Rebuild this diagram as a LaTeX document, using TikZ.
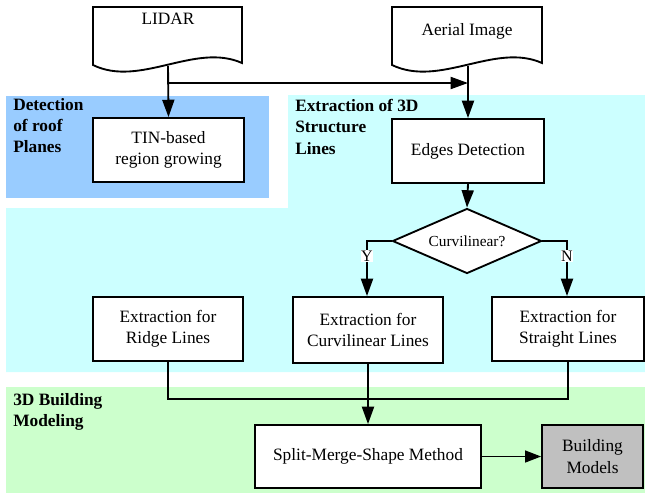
\documentclass[tikz,border=0pt]{standalone}
\usepackage{fontspec}
\setmainfont{Liberation Serif}
\usetikzlibrary{arrows.meta,shapes.geometric}
\definecolor{roofblue}{HTML}{99CCFF}
\definecolor{structcyan}{HTML}{CCFFFF}
\definecolor{modelgreen}{HTML}{CCFFCC}
\definecolor{modelgray}{HTML}{C0C0C0}
\begin{document}
\begin{tikzpicture}[x=0.75pt,y=-0.75pt,
  box/.style={draw,line width=1.4pt,fill=white,align=center,inner sep=0pt,
    font=\fontsize{13}{16}\selectfont},
  doc/.style={draw,line width=1.4pt,fill=white},
  conn/.style={line width=1.4pt},
  arr/.style={line width=1.4pt,-{Triangle[length=13pt,width=9pt]}},
  thinarr/.style={line width=1pt,-{Triangle[length=12pt,width=9pt]}},
  lbl/.style={font=\fontsize{13}{16}\selectfont\bfseries,align=left,anchor=north west,inner sep=0pt},
  yn/.style={fill=white,inner sep=0.5pt,font=\fontsize{12}{14}\selectfont}]
\useasboundingbox (0,0) rectangle (645,494);
% backgrounds
\fill[structcyan] (288,95) -- (645,95) -- (645,372) -- (6,372) -- (6,208) -- (288,208) -- cycle;
\fill[roofblue] (6,96) rectangle (269,198);
\fill[modelgreen] (6,387) rectangle (645,493);
% group labels
\node[lbl] (lroof) at (13,98) {Detection\\of roof\\Planes};
\node[lbl] (lstruct) at (295,99) {Extraction of 3D\\Structure\\Lines};
\node[lbl] (lmodel) at (13,393) {3D Building\\Modeling};
% document shapes
\draw[doc] (93,65) -- (93,7) -- (242,7) -- (242,63) .. controls (195,42) and (140,88) .. cycle;
\draw[doc] (392,65) -- (392,7) -- (542,7) -- (542,63) .. controls (495,42) and (440,88) .. cycle;
\node[font=\fontsize{13}{16}\selectfont] (lidar) at (168,19) {LIDAR};
\node[font=\fontsize{13}{16}\selectfont] (aerial) at (467,31) {Aerial Image};
\coordinate (lidarb) at (168,66);
\coordinate (aerialb) at (468,66);
\coordinate (branch) at (168,83);
\coordinate (aerialj) at (468,83);
% boxes
\node[box,minimum width=113.25pt,minimum height=48pt] (tin) at (168.5,150) {TIN-based\\region growing};
\node[box,minimum width=114pt,minimum height=48pt] (edges) at (468,151) {Edges Detection};
\node[draw,line width=1.4pt,fill=white,diamond,aspect=2.3,inner sep=0pt,minimum width=111.75pt,minimum height=48.75pt,
  font=\fontsize{11.5}{14}\selectfont] (curvq) at (467,241) {Curvilinear?};
\node[box,minimum width=112.5pt,minimum height=48pt] (ridge) at (168,329) {Extraction for\\Ridge Lines};
\node[box,minimum width=112.5pt,minimum height=49.5pt] (curv) at (368,330) {Extraction for\\Curvilinear Lines};
\node[box,minimum width=114pt,minimum height=48pt] (straight) at (568,329) {Extraction for\\Straight Lines};
\node[box,minimum width=169.5pt,minimum height=47.25pt] (split) at (368,456.5) {Split-Merge-Shape Method};
\node[box,fill=modelgray,minimum width=75.75pt,minimum height=47.25pt] (bm) at (592.5,456.5) {Building\\Models};
% connectors
\draw[arr] (lidarb) -- (tin.north);
\draw[arr] (branch) -- (aerialj);
\draw[arr] (aerialb) -- (edges.north);
\draw[arr] (edges.south) -- (curvq.north);
\coordinate (yc) at (367,241);
\coordinate (nc) at (567,241);
\draw[arr] (curvq.west) -- (yc) -- (curv.north -| yc);
\draw[arr] (curvq.east) -- (nc) -- (straight.north -| nc);
\node[yn] (ylab) at (367,256) {Y};
\node[yn] (nlab) at (567,256) {N};
\coordinate (jl) at (168,399);
\coordinate (jr) at (568,399);
\draw[conn] (ridge.south) -- (jl) -- (jr) -- (straight.south);
\draw[arr] (curv.south) -- (split.north);
\draw[thinarr] (split.east) -- (bm.west);
\end{tikzpicture}
\end{document}
